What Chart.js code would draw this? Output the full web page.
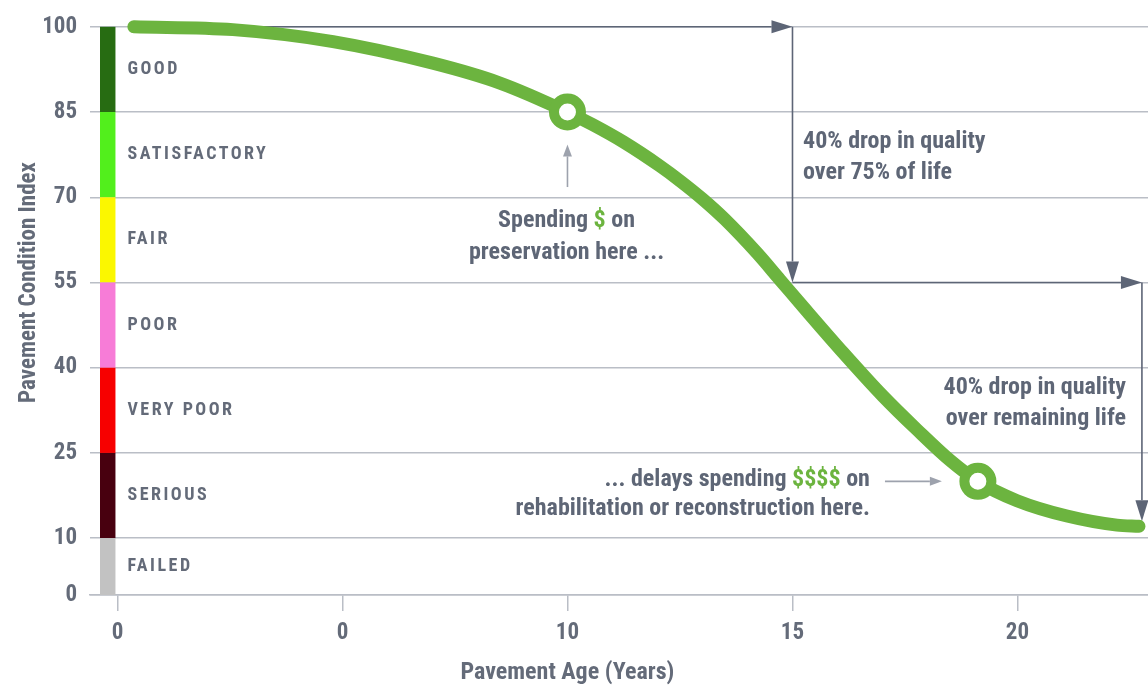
<!DOCTYPE html>
<html>
<head>
<meta charset="utf-8">
<script src="https://cdn.jsdelivr.net/npm/chart.js@4.4.0/dist/chart.umd.min.js"></script>
<style>
  html, body { margin: 0; padding: 0; background: #ffffff; }
  #wrap { width: 1148px; height: 687px; position: relative; }
</style>
</head>
<body>
<div id="wrap"><canvas id="pci" width="1148" height="687"></canvas></div>
<script>
// Deterioration curve: position along the age axis (tick slots) and condition index
const ageSlot  = [0.073, 0.513, 0.958, 1.402, 1.70, 2.00, 2.111, 2.25, 2.411, 2.50, 2.60, 2.70, 2.842, 2.944, 3.05, 3.224, 3.402, 3.553, 3.70, 3.824, 3.998, 4.22, 4.442, 4.54];
const pciValue = [100,   99.5,  97.4,  93.6,  90.1, 85,   82.8,  79.7, 75.5,  72.9, 69.7, 66.1, 60.2,  55.5,  50.6, 42.7,  35.0,  29.1,  23.7, 20,    16.6,  13.9, 12.3,  12.1];
// indices of the two highlighted points on the curve
const markedIndex = [5, 19];

const xTickLabels = ['0', '0', '10', '15', '20'];
const yTickValues = [0, 10, 25, 40, 55, 70, 85, 100];
const xTitle = 'Pavement Age (Years)';
const yTitle = 'Pavement Condition Index';

// condition bands
const bandNames  = ['GOOD', 'SATISFACTORY', 'FAIR', 'POOR', 'VERY POOR', 'SERIOUS', 'FAILED'];
const bandTop    = [100, 85, 70, 55, 40, 25, 10];
const bandBottom = [85, 70, 55, 40, 25, 10, 0];
const bandColors = ['#276c12', '#52ef1c', '#fbf700', '#f77cd7', '#f70000', '#48000f', '#c2c2c2'];

const FONT = "'Roboto Condensed', Roboto, 'Liberation Sans', sans-serif";
const GREEN = '#6cb43f';
const TEXT = '#5e6676';
const LABEL = '#646b79';
const GRID = '#babec6';

// annotation arrows, in axis units: [x1, y1, x2, y2, style]
const arrows = [
  [0.073, 100, 3.0, 100, 'main'],
  [3.0, 100, 3.0, 55, 'main'],
  [3.0, 55, 4.553, 55, 'main'],
  [4.553, 55, 4.553, 13, 'main'],
  [2.0, 71.8, 2.0, 79.3, 'light'],
  [3.411, 20, 3.664, 20, 'light']
];

// annotation text blocks, anchored in axis units
const notes = [
  { x: 3.047, y: [79.7, 74.2], align: 'left',
    lines: [[['40% drop in quality', TEXT]], [['over 75% of life', TEXT]]] },
  { x: 4.482, y: [36.4, 30.9], align: 'right',
    lines: [[['40% drop in quality', TEXT]], [['over remaining life', TEXT]]] },
  { x: 1.996, y: [65.9, 60.2], align: 'center',
    lines: [[['Spending ', TEXT], ['$', GREEN], [' on', TEXT]], [['preservation here ...', TEXT]]] },
  { x: 3.344, y: [20.3, 15.1], align: 'right',
    lines: [[['... delays spending ', TEXT], ['$$$$', GREEN], [' on', TEXT]], [['rehabilitation or reconstruction here.', TEXT]]] }
];

function drawArrow(ctx, x1, y1, x2, y2, style) {
  const main = style === 'main';
  const len = main ? 21 : 12;
  const half = main ? 6.5 : 4.5;
  const ang = Math.atan2(y2 - y1, x2 - x1);
  const bx = x2 - len * Math.cos(ang), by = y2 - len * Math.sin(ang);
  ctx.save();
  ctx.strokeStyle = main ? '#5d6576' : '#9da2ad';
  ctx.fillStyle = ctx.strokeStyle;
  ctx.lineWidth = 1.6;
  ctx.beginPath();
  ctx.moveTo(x1, y1);
  ctx.lineTo(bx, by);
  ctx.stroke();
  ctx.beginPath();
  ctx.moveTo(x2, y2);
  ctx.lineTo(bx + half * Math.sin(ang), by - half * Math.cos(ang));
  ctx.lineTo(bx - half * Math.sin(ang), by + half * Math.cos(ang));
  ctx.closePath();
  ctx.fill();
  ctx.restore();
}

function drawRichLine(ctx, segs, x, y, align) {
  const total = segs.reduce((s, g) => s + ctx.measureText(g[0]).width, 0);
  let cx = align === 'left' ? x : align === 'right' ? x - total : x - total / 2;
  ctx.textAlign = 'left';
  segs.forEach(g => {
    ctx.fillStyle = g[1];
    ctx.fillText(g[0], cx, y);
    cx += ctx.measureText(g[0]).width;
  });
}

const bandPlugin = {
  id: 'bands',
  beforeDatasetsDraw(chart) {
    const { ctx, scales: { x, y } } = chart;
    const barLeft = x.left + 10, barRight = x.getPixelForValue(0) - 2;
    ctx.save();
    bandNames.forEach((name, i) => {
      const top = y.getPixelForValue(bandTop[i]);
      const bottom = y.getPixelForValue(bandBottom[i]);
      ctx.fillStyle = bandColors[i];
      ctx.fillRect(barLeft, top, barRight - barLeft, bottom - top);
      ctx.fillStyle = LABEL;
      ctx.font = `bold 18px ${FONT}`;
      ctx.letterSpacing = '2.5px';
      ctx.textAlign = 'left';
      ctx.textBaseline = 'middle';
      ctx.fillText(name, barRight + 12, (top + bottom) / 2);
    });
    ctx.letterSpacing = '0px';
    arrows.forEach(a => drawArrow(ctx, x.getPixelForValue(a[0]), y.getPixelForValue(a[1]),
      x.getPixelForValue(a[2]), y.getPixelForValue(a[3]), a[4]));
    ctx.restore();
  },
  afterDatasetsDraw(chart) {
    const { ctx, scales: { x, y } } = chart;
    ctx.save();
    ctx.font = `bold 24px ${FONT}`;
    ctx.textBaseline = 'middle';
    notes.forEach(n => {
      n.lines.forEach((segs, i) => drawRichLine(ctx, segs, x.getPixelForValue(n.x), y.getPixelForValue(n.y[i]), n.align));
    });
    // axis titles: the age title sits under the "10" slot, the index title beside the 55 line
    ctx.fillStyle = LABEL;
    ctx.textAlign = 'center';
    ctx.font = `bold 24px ${FONT}`;
    ctx.fillText(xTitle, x.getPixelForValue(2), x.bottom - 14);
    ctx.font = `bold 23px ${FONT}`;
    ctx.translate(y.left + 29, y.getPixelForValue(55));
    ctx.rotate(-Math.PI / 2);
    ctx.fillText(yTitle, 0, 0);
    ctx.restore();
  }
};

new Chart(document.getElementById('pci'), {
  type: 'line',
  data: {
    datasets: [{
      data: ageSlot.map((a, i) => ({ x: a, y: pciValue[i] })),
      borderColor: GREEN,
      borderWidth: 13,
      borderCapStyle: 'round',
      borderJoinStyle: 'round',
      cubicInterpolationMode: 'monotone',
      clip: false,
      pointRadius: ctx => markedIndex.includes(ctx.dataIndex) ? 13.5 : 0,
      pointHoverRadius: ctx => markedIndex.includes(ctx.dataIndex) ? 13.5 : 0,
      pointBorderWidth: 10,
      pointBorderColor: GREEN,
      pointBackgroundColor: '#ffffff'
    }]
  },
  options: {
    responsive: false,
    animation: false,
    devicePixelRatio: 1,
    layout: { padding: { top: 18, right: 0, left: 0, bottom: 0 } },
    plugins: { legend: { display: false }, tooltip: { enabled: false } },
    scales: {
      x: {
        type: 'linear',
        min: -0.122,
        max: 4.58,
        afterBuildTicks: s => { s.ticks = [0, 1, 2, 3, 4].map(v => ({ value: v })); },
        afterFit: s => { s.height = 92; },
        grid: { drawOnChartArea: false, drawTicks: true, tickLength: 16, color: GRID, lineWidth: 1.5 },
        border: { display: true, color: GRID, width: 1.5 },
        ticks: {
          autoSkip: false, maxRotation: 0, padding: 8,
          color: LABEL, font: { family: FONT, size: 23, weight: 'bold' },
          callback: (v, i) => xTickLabels[i]
        },
        title: { display: false }
      },
      y: {
        min: 0,
        max: 100,
        afterBuildTicks: s => { s.ticks = yTickValues.map(v => ({ value: v })); },
        afterFit: s => { s.width = 90; },
        grid: { color: GRID, lineWidth: 1.5, drawTicks: false },
        border: { display: false },
        ticks: { padding: 13, color: LABEL, font: { family: FONT, size: 23, weight: 'bold' } },
        title: { display: false }
      }
    }
  },
  plugins: [bandPlugin]
});
</script>
</body>
</html>
